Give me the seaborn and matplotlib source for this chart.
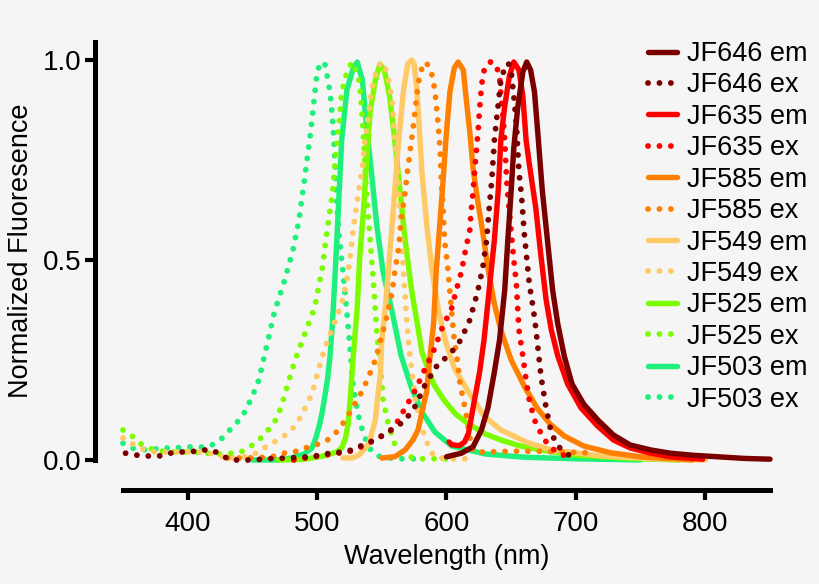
import matplotlib
matplotlib.use('Agg')
import matplotlib.pyplot as plt
import seaborn as sns
import pandas as pd

sns.set_style('ticks')
plt.rcParams['font.family'] = ['Liberation Sans', 'DejaVu Sans']
for k in ['text.color', 'axes.labelcolor', 'xtick.color', 'ytick.color', 'axes.edgecolor']:
    plt.rcParams[k] = 'black'

# ---- data (wavelength nm, normalized value) ----
jf646_em_wl = [600, 611.5, 620.5, 627, 632, 637, 641, 645, 647.4, 650, 652, 655, 659, 662, 665, 668,
               670.5, 674, 678, 682, 686, 691, 697, 706, 717, 729, 742, 758, 773, 790, 810, 830, 850]
jf646_em_val = [0.008, 0.017, 0.033, 0.075, 0.13, 0.22, 0.3, 0.425, 0.55, 0.675, 0.78, 0.88, 0.97, 0.995,
                0.975, 0.92, 0.82, 0.675, 0.55, 0.425, 0.34, 0.26, 0.19, 0.14, 0.1, 0.0625, 0.0375, 0.025,
                0.017, 0.012, 0.008, 0.004, 0.002]

jf646_ex_wl = [352, 361, 369, 378, 386, 395, 402, 410, 419, 426, 433, 442, 451, 460, 478, 494, 502, 510,
               519, 527, 535, 541, 547, 554, 560, 567, 572, 577, 582, 586, 591, 596, 604, 611, 618, 624,
               628, 631, 633, 635, 637, 640, 642, 646, 648, 650, 652, 654, 656, 658, 660, 664, 667, 669,
               671, 673, 677, 681, 686, 693, 700]
jf646_ex_val = [0.017, 0.012, 0.01, 0.01, 0.017, 0.02, 0.02, 0.025, 0.025, 0.012, 0.0, 0.0, 0.0, 0.003,
                0.005, 0.008, 0.012, 0.017, 0.02, 0.025, 0.037, 0.045, 0.055, 0.067, 0.083, 0.095, 0.117,
                0.14, 0.18, 0.2, 0.23, 0.245, 0.27, 0.3, 0.35, 0.42, 0.48, 0.55, 0.63, 0.7, 0.8, 0.89,
                0.95, 0.99, 0.99, 0.97, 0.91, 0.84, 0.72, 0.66, 0.57, 0.44, 0.38, 0.33, 0.27, 0.21, 0.13,
                0.067, 0.035, 0.015, 0.005]

jf635_em_wl = [602, 604, 610, 614, 617, 620.5, 625.6, 629, 633, 637, 640, 642, 644.8, 648.6, 652, 656,
               659, 661.5, 664, 669, 673, 677, 681, 686, 693.6, 704, 716.7, 729, 742, 758, 773, 798]
jf635_em_val = [0.045, 0.038, 0.036, 0.045, 0.067, 0.13, 0.22, 0.3, 0.425, 0.55, 0.675, 0.8, 0.88, 0.96,
                0.995, 0.975, 0.91, 0.8, 0.74, 0.63, 0.51, 0.4, 0.325, 0.26, 0.19, 0.13, 0.085, 0.05,
                0.03, 0.017, 0.008, 0.002]

jf635_ex_wl = [482, 491, 498, 506, 516, 524, 532, 540, 547, 556, 563, 568, 576, 583, 591, 596, 604, 608,
               611.5, 615, 618, 619, 620.5, 621.7, 623, 624.6, 625.6, 627, 628, 630, 634, 638, 641, 642,
               643.6, 645, 646, 647, 648.6, 650, 652, 654, 655, 656, 659, 661.5, 664, 668, 673, 678,
               685, 692]
jf635_ex_val = [0.0, 0.005, 0.008, 0.012, 0.017, 0.02, 0.03, 0.042, 0.055, 0.07, 0.1, 0.13, 0.175, 0.225,
                0.28, 0.325, 0.38, 0.43, 0.47, 0.53, 0.575, 0.62, 0.67, 0.72, 0.77, 0.83, 0.88, 0.93,
                0.96, 0.985, 0.995, 0.99, 0.96, 0.91, 0.86, 0.8, 0.73, 0.675, 0.62, 0.57, 0.5, 0.44,
                0.38, 0.325, 0.26, 0.2, 0.15, 0.1, 0.067, 0.04, 0.02, 0.01]

jf585_em_wl = [550, 560, 568, 574, 578, 581, 584.6, 586, 590, 592, 594.6, 597.4, 600, 602.6, 606, 609,
               613, 615, 618, 620.5, 624, 628, 632, 637, 642, 650, 660, 670, 680, 691, 706, 727, 750, 790]
jf585_em_val = [0.005, 0.008, 0.025, 0.05, 0.075, 0.12, 0.17, 0.22, 0.34, 0.47, 0.58, 0.7, 0.82, 0.92,
                0.98, 0.995, 0.975, 0.91, 0.82, 0.73, 0.65, 0.57, 0.48, 0.39, 0.325, 0.25, 0.185, 0.13,
                0.09, 0.06, 0.035, 0.018, 0.008, 0.0]

jf585_ex_wl = [431, 445, 455, 465, 474, 482, 491, 498, 506, 513, 518, 523, 527, 532, 536, 540, 545, 550,
               554, 558, 560, 563, 565, 568, 570, 572, 574, 576, 578, 581, 584, 588, 591, 593, 595, 596,
               597.5, 598.5, 601, 602.5, 604, 606, 608, 610.5, 613, 615, 617, 619, 621, 630, 650, 670,
               690, 710]
jf585_ex_val = [0.005, 0.005, 0.006, 0.008, 0.017, 0.02, 0.03, 0.037, 0.045, 0.062, 0.083, 0.105, 0.13,
                0.155, 0.18, 0.21, 0.25, 0.31, 0.36, 0.42, 0.47, 0.53, 0.6, 0.67, 0.725, 0.775, 0.825,
                0.88, 0.94, 0.98, 0.995, 0.975, 0.925, 0.86, 0.78, 0.7, 0.62, 0.55, 0.48, 0.425, 0.37,
                0.3, 0.26, 0.19, 0.15, 0.12, 0.075, 0.04, 0.02, 0.02, 0.022, 0.022, 0.02, 0.018]

jf549_em_wl = [520, 527, 532, 536, 540, 545, 547, 549, 550, 553, 555, 559, 563, 567, 570, 573, 575, 577,
               579, 581, 585, 589, 594, 599, 606, 617, 629, 642, 663, 681, 720, 760, 800]
jf549_em_val = [0.005, 0.005, 0.012, 0.025, 0.04, 0.1, 0.16, 0.22, 0.3, 0.39, 0.47, 0.63, 0.8, 0.93,
                0.99, 1.0, 0.99, 0.93, 0.83, 0.72, 0.58, 0.47, 0.37, 0.3, 0.23, 0.17, 0.11, 0.075, 0.043,
                0.025, 0.01, 0.003, 0.0]

jf549_ex_wl = [350, 355, 360, 367, 375, 390, 400, 410, 420, 430, 440, 450, 459, 467, 473, 479, 485, 490,
               496, 501, 506, 513, 519, 523, 526, 528, 532, 535, 537, 540, 542, 546, 550, 554, 558, 560,
               563, 565, 567, 569, 571, 576, 581, 587, 591, 600, 620]
jf549_ex_val = [0.055, 0.045, 0.035, 0.025, 0.02, 0.02, 0.02, 0.02, 0.015, 0.005, 0.005, 0.012, 0.03,
                0.045, 0.057, 0.07, 0.095, 0.125, 0.165, 0.225, 0.28, 0.34, 0.39, 0.45, 0.52, 0.58, 0.67,
                0.73, 0.8, 0.87, 0.925, 0.975, 0.995, 0.97, 0.9, 0.8, 0.675, 0.56, 0.46, 0.36, 0.28,
                0.15, 0.08, 0.025, 0.008, 0.003, 0.003]

jf525_em_wl = [470, 490, 505, 515, 519, 522, 524, 526, 528, 531, 533, 536, 538.5, 541, 545, 548.6, 552,
               556, 560, 564, 568, 573, 578, 581, 590, 598, 607, 617, 630, 642, 657, 673, 700, 740, 780]
jf525_em_val = [0.0, 0.002, 0.01, 0.02, 0.03, 0.055, 0.09, 0.17, 0.26, 0.38, 0.51, 0.63, 0.76, 0.87,
                0.95, 0.99, 0.975, 0.91, 0.8, 0.675, 0.55, 0.425, 0.33, 0.27, 0.19, 0.15, 0.115, 0.09,
                0.065, 0.05, 0.035, 0.025, 0.012, 0.004, 0.0]

jf525_ex_wl = [350, 355, 359, 365, 374, 385, 395, 405, 415, 425, 435, 441, 447, 455, 461, 468, 472, 476,
               483, 491, 498, 504, 508, 512, 514, 517, 519, 523, 527, 532, 534, 536, 538, 541, 544, 546,
               549, 551, 555, 560, 568, 580, 600]
jf525_ex_val = [0.075, 0.065, 0.055, 0.037, 0.025, 0.02, 0.02, 0.02, 0.017, 0.015, 0.017, 0.02, 0.03,
                0.05, 0.07, 0.1, 0.13, 0.175, 0.25, 0.32, 0.38, 0.48, 0.58, 0.67, 0.75, 0.84, 0.92, 0.97,
                0.995, 0.96, 0.9, 0.8, 0.675, 0.55, 0.425, 0.325, 0.23, 0.15, 0.09, 0.04, 0.01, 0.003,
                0.003]

jf503_em_wl = [450, 470, 480, 490, 496, 499, 502, 504, 506, 508, 510, 512, 514, 516, 519, 523, 528, 531,
               535, 538, 542, 546, 551, 558, 565, 573, 581, 591, 604, 630, 660, 700, 750]
jf503_em_val = [0.0, 0.0, 0.005, 0.015, 0.03, 0.055, 0.09, 0.12, 0.16, 0.2, 0.26, 0.35, 0.47, 0.6, 0.8,
                0.925, 0.98, 0.995, 0.95, 0.84, 0.72, 0.59, 0.47, 0.37, 0.26, 0.18, 0.12, 0.07, 0.035,
                0.015, 0.007, 0.003, 0.0]

jf503_ex_wl = [350, 355, 360, 370, 380, 390, 400, 410, 418, 425, 430, 435, 440, 445, 450, 455, 460, 467,
               474, 481, 486, 491, 495, 498, 500, 503, 506, 509, 511, 513, 515, 517, 520, 523, 526, 528,
               532, 535, 540, 547, 555, 565, 575]
jf503_ex_val = [0.042, 0.032, 0.027, 0.025, 0.03, 0.03, 0.033, 0.032, 0.036, 0.05, 0.065, 0.085, 0.1,
                0.125, 0.16, 0.2, 0.27, 0.37, 0.44, 0.52, 0.6, 0.72, 0.82, 0.91, 0.97, 0.995, 0.99, 0.94,
                0.89, 0.8, 0.66, 0.56, 0.47, 0.37, 0.26, 0.18, 0.11, 0.075, 0.03, 0.01, 0.005, 0.003,
                0.003]

labels = ['JF646 em', 'JF646 ex', 'JF635 em', 'JF635 ex', 'JF585 em', 'JF585 ex',
          'JF549 em', 'JF549 ex', 'JF525 em', 'JF525 ex', 'JF503 em', 'JF503 ex']
wl_lists = [jf646_em_wl, jf646_ex_wl, jf635_em_wl, jf635_ex_wl, jf585_em_wl, jf585_ex_wl,
            jf549_em_wl, jf549_ex_wl, jf525_em_wl, jf525_ex_wl, jf503_em_wl, jf503_ex_wl]
val_lists = [jf646_em_val, jf646_ex_val, jf635_em_val, jf635_ex_val, jf585_em_val, jf585_ex_val,
             jf549_em_val, jf549_ex_val, jf525_em_val, jf525_ex_val, jf503_em_val, jf503_ex_val]
dye_colors = ['#7a0000', '#ff0000', '#ff8000', '#ffc966', '#7cfc00', '#1df07c']

# ---- figure ----
fig = plt.figure(figsize=(8.2, 5.84), dpi=100, facecolor='#f5f5f5')
ax = fig.add_axes([123 / 820, 1 - 460 / 584, (770 - 123) / 820, (460 - 42) / 584])
ax.set_facecolor('#f5f5f5')

handles = {}
# draw from the bottom of the legend up so JF646 ends on top
for i in range(len(labels) - 1, -1, -1):
    col = dye_colors[i // 2]
    d = pd.DataFrame({'wl': wl_lists[i], 'val': val_lists[i]})
    if labels[i].endswith('em'):
        sns.lineplot(data=d, x='wl', y='val', ax=ax, color=col, lw=3.9,
                     solid_capstyle='round', solid_joinstyle='round', clip_on=False, label=labels[i])
    else:
        sns.lineplot(data=d, x='wl', y='val', ax=ax, color=col, lw=4.2,
                     linestyle=(0, (0.01, 1.95)), dash_capstyle='round',
                     clip_on=False, label=labels[i])
    handles[labels[i]] = ax.get_lines()[-1]

ax.set_xlim(350, 850)
ax.set_ylim(0, 1.045)
ax.set_xticks([400, 500, 600, 700, 800])
ax.set_yticks([0.0, 0.5, 1.0])
ax.set_yticklabels(['0.0', '0.5', '1.0'])

sns.despine(ax=ax)
ax.spines['left'].set_position(('outward', 20))
ax.spines['bottom'].set_position(('outward', 21.5))
for s in ['left', 'bottom']:
    ax.spines[s].set_linewidth(3.6)
ax.tick_params(axis='both', width=3, length=7, labelsize=20, color='black')
ax.tick_params(axis='x', pad=8)
ax.tick_params(axis='y', pad=3)

ax.set_xlabel('Wavelength (nm)', fontsize=19.5, labelpad=5)
ax.set_ylabel('Normalized Fluoresence', fontsize=19.5, labelpad=6)

ax.legend([handles[l] for l in labels], labels, loc='upper left',
          bbox_to_anchor=(648 / 820, 1 - 41 / 584), bbox_transform=fig.transFigure,
          frameon=False, fontsize=19.5, borderpad=0, borderaxespad=0,
          handlelength=1.07, handletextpad=0.37, labelspacing=0.2)

fig.savefig('out.png', dpi=100, facecolor=fig.get_facecolor())
